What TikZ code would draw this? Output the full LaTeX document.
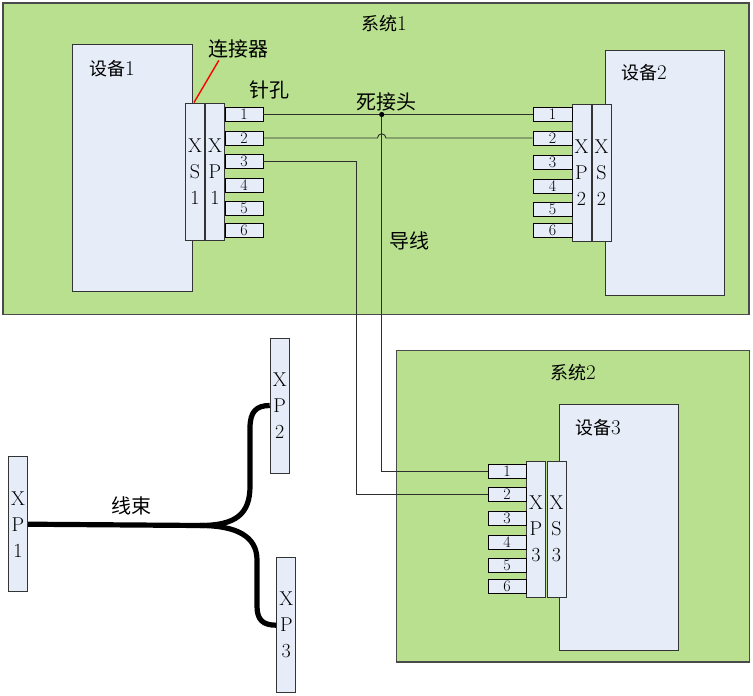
\documentclass[tikz,border=0pt]{standalone}
\usepackage{fontspec}
\newfontfamily\cjk{Noto Sans CJK SC}
\definecolor{sysgreen}{HTML}{B8E08E}
\definecolor{devfill}{HTML}{E6ECF8}
\definecolor{edge}{HTML}{4A4A4A}
\definecolor{wirec}{HTML}{2E2E2E}
\begin{document}
\begin{tikzpicture}[x=1pt,y=-1pt,
 sysbox/.style={draw=edge, line width=1.2pt, fill=sysgreen, rectangle, inner sep=0},
 devbox/.style={draw=edge!70!black, line width=1pt, fill=devfill, rectangle, inner sep=0},
 conbox/.style={draw=edge!70!black, line width=1pt, fill=devfill, rectangle, inner sep=0, minimum width=19pt, minimum height=137pt, align=center, font=\fontsize{20}{26}\selectfont},
 pinbox/.style={draw=black, line width=0.9pt, fill=devfill, rectangle, inner sep=0, minimum width=38pt, minimum height=14pt, font=\fontsize{16}{16}\selectfont},
 wire/.style={draw=wirec, line width=0.9pt},
 harness/.style={draw=black, line width=5.2pt, line join=round},
 redline/.style={draw=red, line width=1.4pt},
 lbl/.style={font=\fontsize{21}{21}\selectfont, inner sep=0},
 biglbl/.style={font=\fontsize{20}{20}\selectfont\cjk, inner sep=0},
]
\useasboundingbox (0,0) rectangle (753,696);
% systems and devices
\node[sysbox, minimum width=746pt, minimum height=311.5pt] (sys1) at (376,158.75) {};
\node[sysbox, minimum width=353pt, minimum height=311.3pt] (sys2) at (573.2,506.3) {};
\node[devbox, minimum width=119.6pt, minimum height=246.7pt] (dev1) at (132.5,168.3) {};
\node[devbox, minimum width=119pt, minimum height=245.3pt] (dev2) at (664.5,173.3) {};
\node[devbox, minimum width=118.5pt, minimum height=246pt] (dev3) at (619.2,527) {};
% connectors
\node[conbox] (xs1) at (195,171.5) {X\\S\\1};
\node[conbox] (xp1) at (215,171.5) {X\\P\\1};
\node[conbox] (xp2) at (581.5,172.5) {X\\P\\2};
\node[conbox] (xs2) at (601.5,172.5) {X\\S\\2};
\node[conbox, minimum height=136pt] (xp3) at (536,529) {X\\P\\3};
\node[conbox, minimum height=136pt] (xs3) at (556.5,529) {X\\S\\3};
% pins
\foreach \n/\y in {1/114.5,2/138,3/161,4/185,5/208,6/230}
  \node[pinbox] (a\n) at (244,\y) {\n};
\foreach \n/\y in {1/114.5,2/138,3/162,4/186,5/209,6/230}
  \node[pinbox, minimum width=39pt] (b\n) at (552.5,\y) {\n};
\foreach \n/\y in {1/471.5,2/494.5,3/518,4/542,5/565,6/586}
  \node[pinbox] (c\n) at (507,\y) {\n};
% wires
\coordinate (splice) at (381.7,114.5);
\draw[wire] (a1.east) -- (b1.west);
\draw[wire] (a2.east) -- (377.5,138) arc[start angle=180, end angle=360, radius=4.2] -- (b2.west);
\draw[wire] (splice) |- (c1.west);
\draw[wire] (a3.east) -- (356.5,161) |- (c2.west);
\fill[black] (splice) circle (2.6pt);
% labels
\node[lbl] (tsys1) at (384,24) {{\fontsize{18}{18}\selectfont\cjk 系统}1};
\node[lbl] (tdev1) at (112,69) {{\fontsize{18}{18}\selectfont\cjk 设备}1};
\node[lbl] (tdev2) at (644,73) {{\fontsize{18}{18}\selectfont\cjk 设备}2};
\node[lbl] (tsys2) at (573,373) {{\fontsize{18}{18}\selectfont\cjk 系统}2};
\node[lbl] (tdev3) at (598,428) {{\fontsize{18}{18}\selectfont\cjk 设备}3};
\node[biglbl] (lconn) at (238,49) {连接器};
\node[biglbl] (lpin) at (269.5,90) {针孔};
\node[biglbl] (lsplice) at (386,102) {死接头};
\node[biglbl] (lwire) at (409,241) {导线};
\node[biglbl] (lharn) at (131,506) {线束};
\draw[redline] ([xshift=-1pt]xs1.north) -- ([xshift=11pt,yshift=-2pt]lconn.south west);
% harness
\node[conbox, minimum height=135pt] (hp1) at (18,524.2) {X\\P\\1};
\node[conbox, minimum height=135pt] (hp2) at (279.7,405.5) {X\\P\\2};
\node[conbox, minimum height=135pt] (hp3) at (286.3,625.2) {X\\P\\3};
\draw[harness] (hp1.east) -- (200,525.5) .. controls (236,525.5) and (250,514) .. (250,486) -- (250,428) .. controls (250,412) and (256,405.5) .. (hp2.west);
\draw[harness] (200,525.5) .. controls (236,525.5) and (257,536) .. (257,560) -- (257,606) .. controls (257,620) and (263,625.2) .. (hp3.west);
\end{tikzpicture}
\end{document}
